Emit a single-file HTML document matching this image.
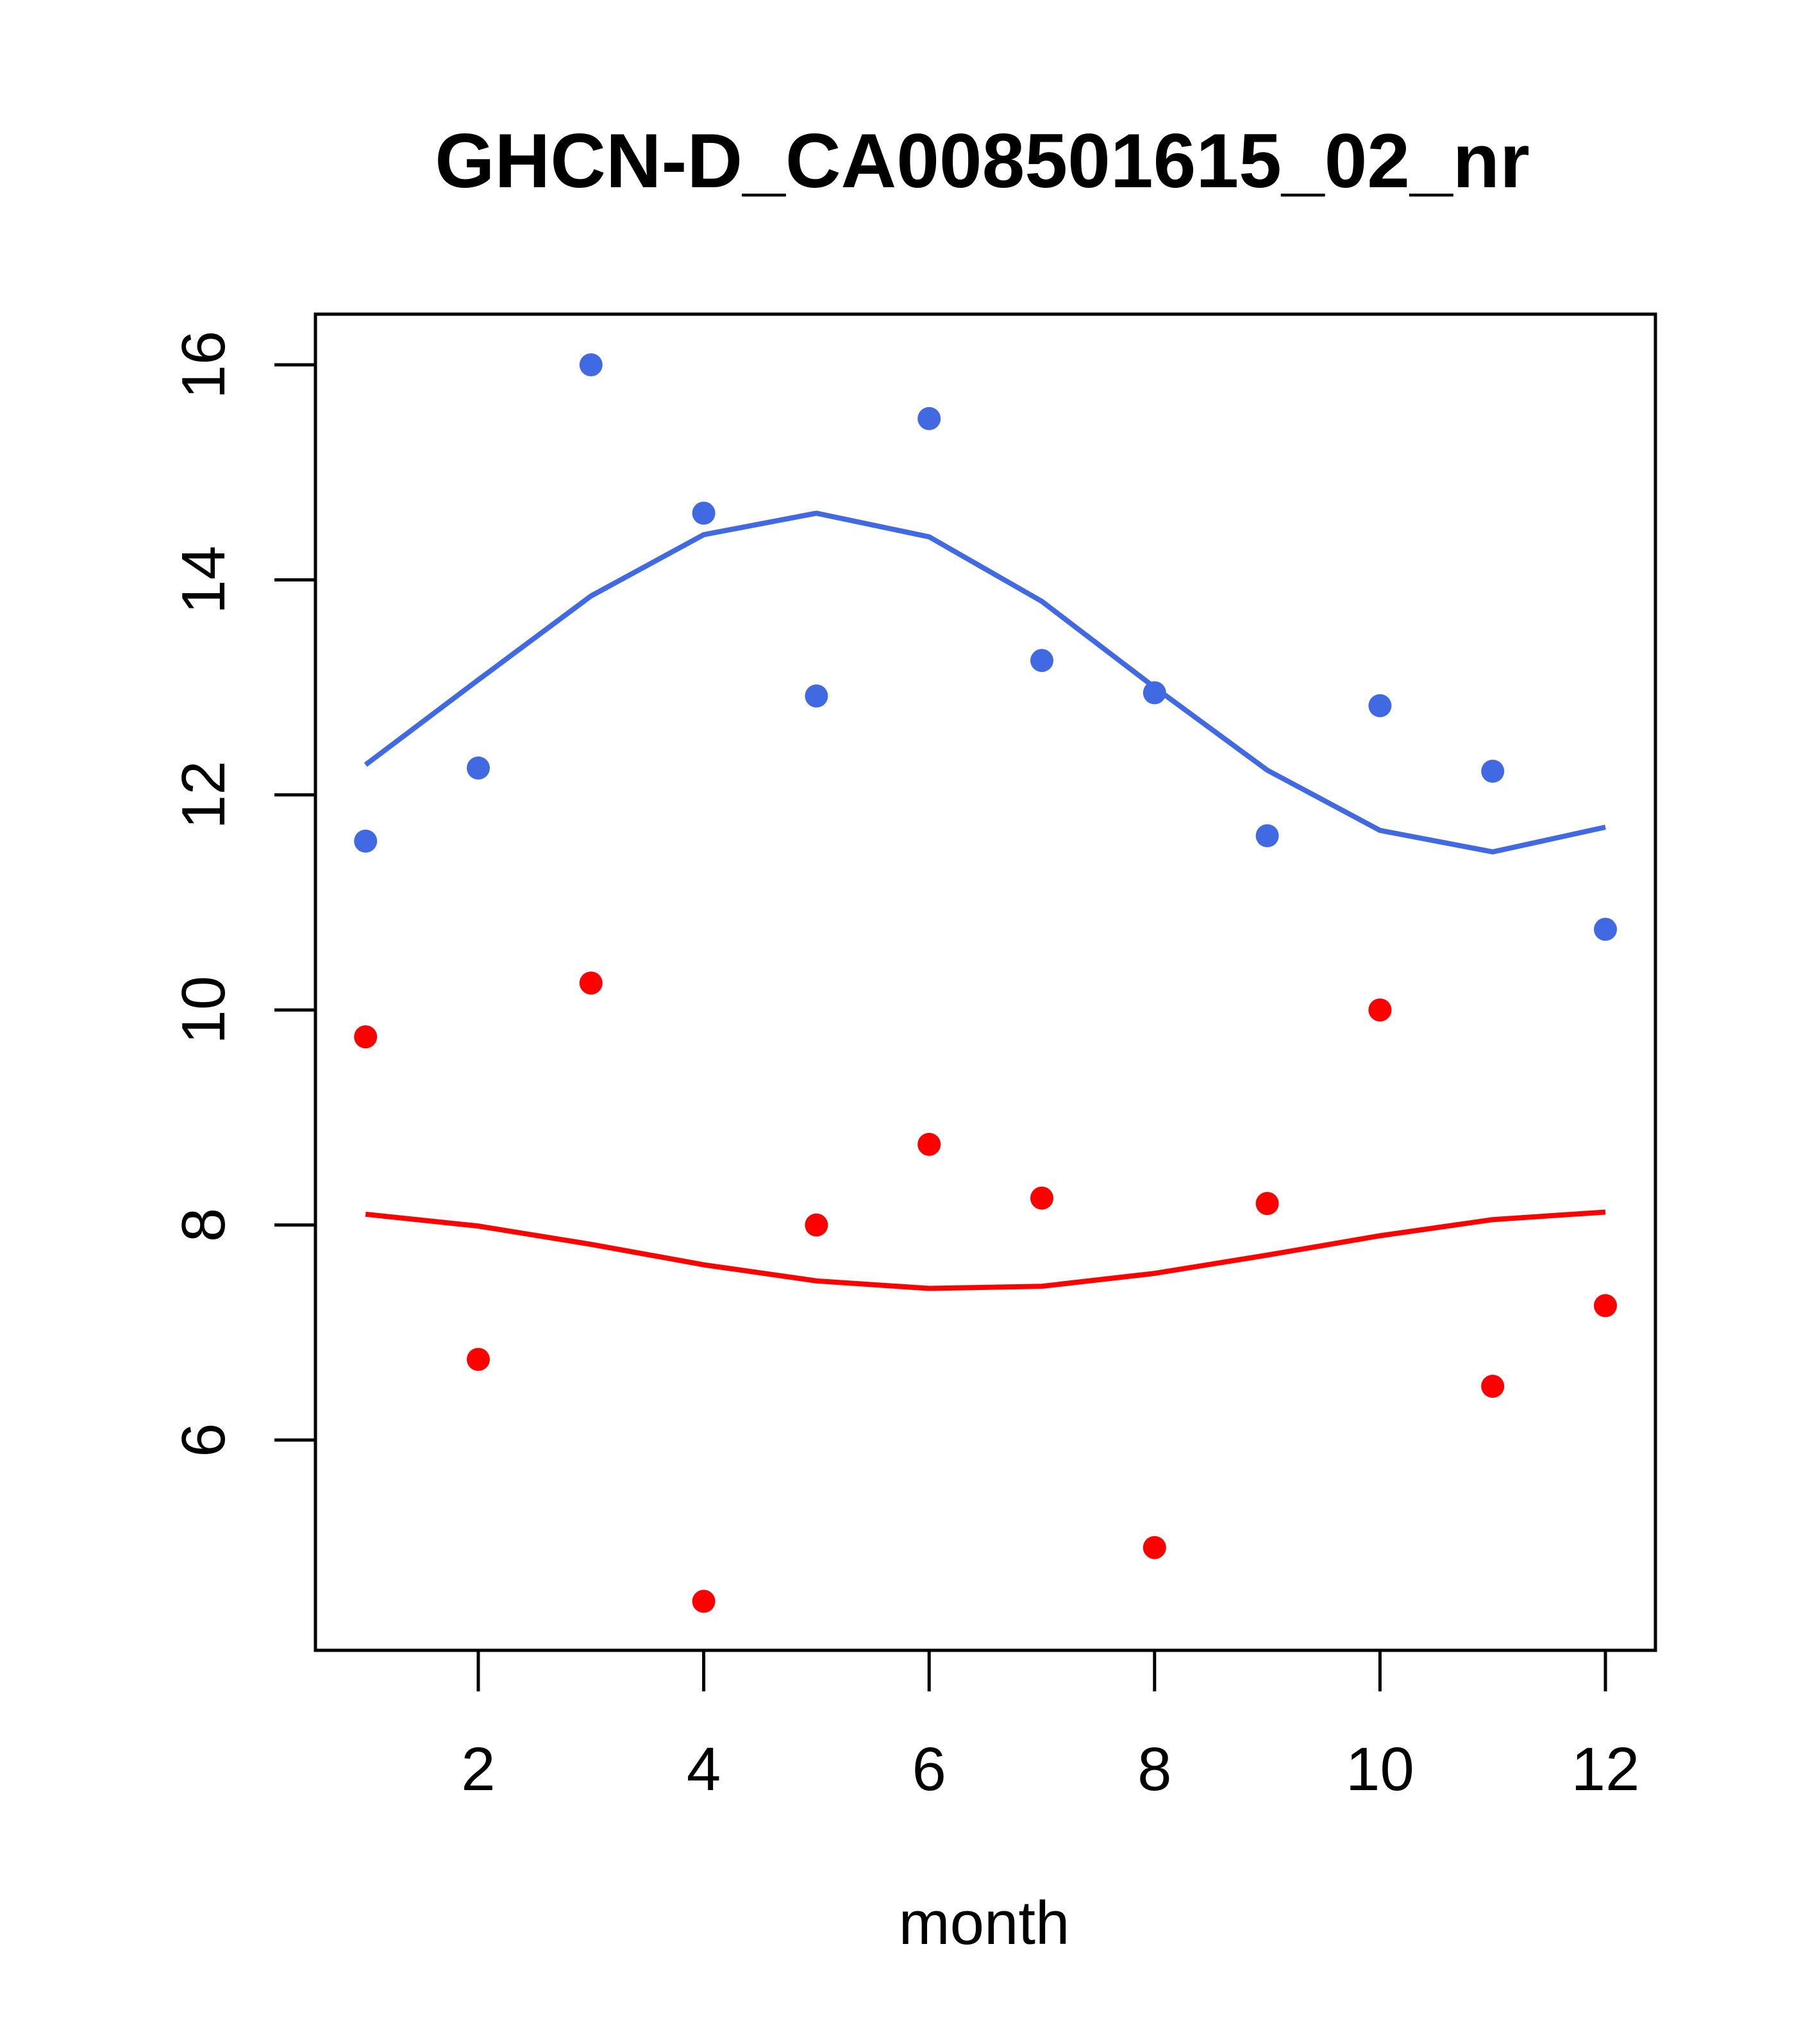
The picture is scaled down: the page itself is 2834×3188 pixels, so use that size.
<!DOCTYPE html>
<html><head><meta charset="utf-8"><style>
html,body{margin:0;padding:0;background:#fff;}
svg{display:block;font-family:"Liberation Sans",Arial,sans-serif;}
</style></head><body>
<svg id="chart" width="2834" height="3188" viewBox="0 0 2834 3188" xmlns="http://www.w3.org/2000/svg">
<text x="1532" y="292" text-anchor="middle" font-size="120" font-weight="bold">GHCN-D_CA008501615_02_nr</text>
<rect x="492" y="490" width="2090" height="2084" fill="none" stroke="#000" stroke-width="5"/>
<g id="xaxis"></g>
<g id="yaxis"></g>
<text x="1535" y="3032" text-anchor="middle" font-size="96">month</text>
<g id="marks"></g>
</svg>
<script>
const months=[1,2,3,4,5,6,7,8,9,10,11,12];
const bluePoints=[11.57,12.25,16.0,14.62,12.92,15.5,13.25,12.95,11.62,12.83,12.22,10.75];
const blueLine=[12.28,13.07,13.85,14.42,14.62,14.4,13.8,13.0,12.23,11.67,11.47,11.7];
const redPoints=[9.75,6.75,10.25,4.5,8.0,8.75,8.25,5.0,8.2,10.0,6.5,7.25];
const redLine=[8.1,7.99,7.82,7.63,7.48,7.41,7.43,7.55,7.72,7.9,8.05,8.12];
const xTicks=[2,4,6,8,10,12];
const yTicks=[6,8,10,12,14,16];
const NS="http://www.w3.org/2000/svg";
function xs(v){return 746+(v-2)*(2504-746)/10;}
function ys(v){return 2246-(v-6)*(2246-569)/10;}
function mk(tag,attrs,parent){const e=document.createElementNS(NS,tag);for(const k in attrs)e.setAttribute(k,attrs[k]);parent.appendChild(e);return e;}
const xa=document.getElementById('xaxis'),ya=document.getElementById('yaxis'),mg=document.getElementById('marks');
xTicks.forEach(t=>{
 const l=mk('line',{x1:xs(t),x2:xs(t),y1:2574,y2:2638,stroke:'#000','stroke-width':5},xa);
 
 
 const tx=mk('text',{x:xs(t),y:2792,'text-anchor':'middle','font-size':96},xa);
 tx.textContent=t;
 
 
});
yTicks.forEach(t=>{
 const l=mk('line',{x1:428,x2:492,y1:ys(t),y2:ys(t),stroke:'#000','stroke-width':5},ya);
 
 
 const tx=mk('text',{x:0,y:0,'text-anchor':'middle','font-size':96,transform:'translate(350,'+ys(t)+') rotate(-90)'},ya);
 tx.textContent=t;
 
 
});
function line(vals,color,name){
 const p=mk('polyline',{points:months.map((m,i)=>xs(m)+','+ys(vals[i])).join(' '),fill:'none',stroke:color,'stroke-width':8},mg);
 
 
}
function pts(vals,color,name){
 months.forEach((m,i)=>{
  const c=mk('circle',{cx:xs(m),cy:ys(vals[i]),r:18,fill:color},mg);
  
  
 });
}
line(blueLine,'#4169E1','blue-smooth-line');
line(redLine,'#FF0000','red-smooth-line');
pts(bluePoints,'#4169E1','blue-point');
pts(redPoints,'#FF0000','red-point');
</script>
</body></html>
